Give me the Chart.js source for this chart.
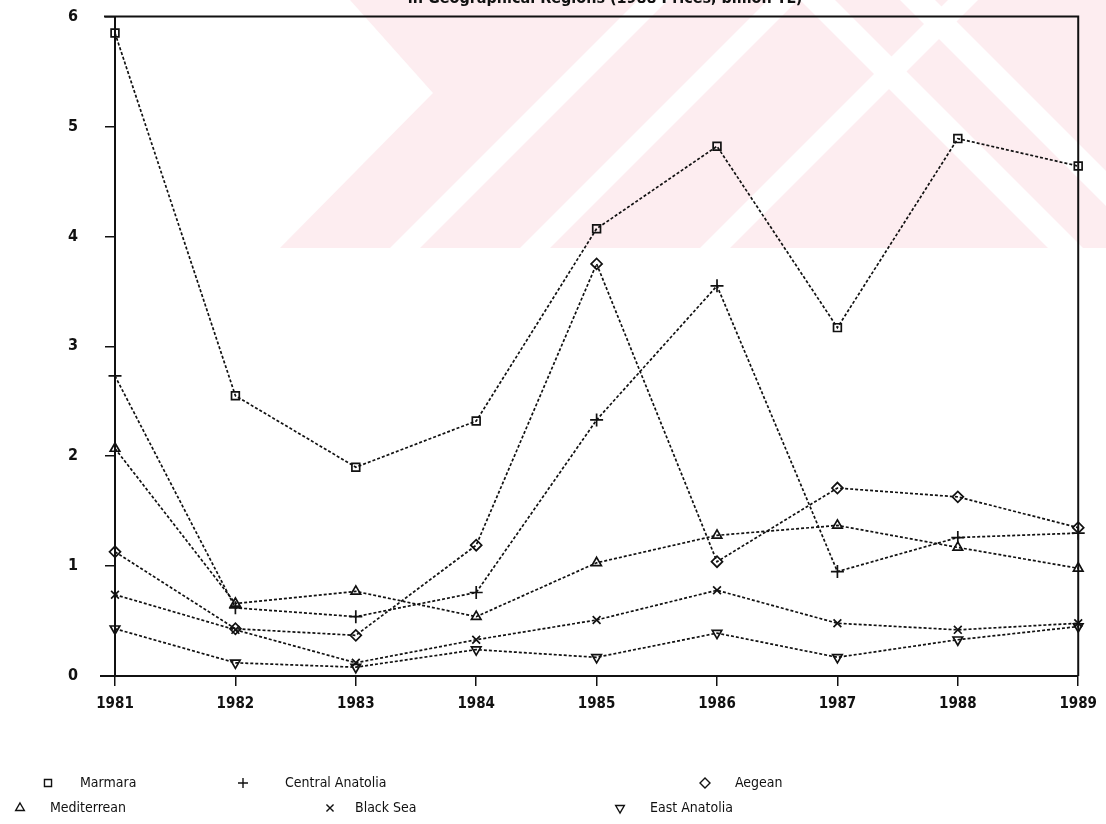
<!DOCTYPE html>
<html>
<head>
<meta charset="utf-8">
<script src="https://cdn.jsdelivr.net/npm/chart.js@4.4.0/dist/chart.umd.min.js"></script>
<style>
  body { margin: 0; background: #fff; }
  #wrap { width: 1106px; height: 824px; overflow: hidden; position: relative; }
  #myChart { position: absolute; left: 0; top: -20px; }
</style>
</head>
<body>
<div id="wrap"><canvas id="myChart" width="1106" height="844"></canvas></div>
<script>
// values
years = ['1981', '1982', '1983', '1984', '1985', '1986', '1987', '1988', '1989']
marmara = [5.85, 2.55, 1.90, 2.32, 4.07, 4.82, 3.17, 4.89, 4.64]
centralAnatolia = [2.73, 0.62, 0.54, 0.76, 2.33, 3.55, 0.95, 1.26, 1.30]
aegean = [1.13, 0.43, 0.37, 1.19, 3.75, 1.04, 1.71, 1.63, 1.35]
mediterrean = [2.07, 0.66, 0.77, 0.54, 1.03, 1.28, 1.37, 1.17, 0.98]
blackSea = [0.74, 0.42, 0.12, 0.33, 0.51, 0.78, 0.48, 0.42, 0.48]
eastAnatolia = [0.43, 0.12, 0.08, 0.24, 0.17, 0.39, 0.17, 0.33, 0.45]
yTicks = [0, 1, 2, 3, 4, 5, 6]
titleText = 'in Geographical Regions (1988 Prices, billion TL)'

const font = '"DejaVu Sans Condensed", "DejaVu Sans", sans-serif'
const shift = 20 // canvas sits 20px above the page top

function series(label, data, style, rot, r) {
  return {
    label: label,
    data: data,
    borderColor: '#111',
    borderWidth: 1.7,
    borderDash: [3, 2],
    pointStyle: style,
    rotation: rot,
    pointRadius: r,
    pointBorderWidth: 1.7,
    pointBackgroundColor: 'rgba(0,0,0,0)',
    pointBorderColor: '#111',
    fill: false,
    tension: 0
  }
}

// faint pink watermark behind the top of the plot
const watermark = {
  id: 'watermark',
  beforeDraw(chart) {
    const c = chart.ctx
    c.save()
    c.translate(0, shift)
    c.beginPath()
    c.rect(280, -shift, 826, 248 + shift)
    c.clip()
    c.fillStyle = '#fdedf0'
    c.fillRect(280, -shift, 826, 248 + shift)
    c.fillStyle = '#fff'
    // white wedge on the left
    c.beginPath()
    c.moveTo(280, -shift)
    c.lineTo(350, -shift)
    c.lineTo(350, 0)
    c.lineTo(433, 93)
    c.lineTo(280, 248)
    c.closePath()
    c.fill()
    // white "/" bands
    const bands = [390, 520, 700]
    bands.forEach(x0 => {
      c.beginPath()
      c.moveTo(x0, 248)
      c.lineTo(x0 + 268, -20)
      c.lineTo(x0 + 268 + 30, -20)
      c.lineTo(x0 + 30, 248)
      c.closePath()
      c.fill()
    })
    // white "\" bands on the right
    const bands2 = [800, 900]
    bands2.forEach(x0 => {
      c.beginPath()
      c.moveTo(x0 - 20, -20)
      c.lineTo(x0 + 248, 248)
      c.lineTo(x0 + 248 + 35, 248)
      c.lineTo(x0 + 15, -20)
      c.closePath()
      c.fill()
    })
    c.restore()
  }
}

// frame, cut-off title and the two-row legend
const extras = {
  id: 'extras',
  afterDraw(chart) {
    const c = chart.ctx
    const a = chart.chartArea
    c.save()
    c.strokeStyle = '#111'
    c.lineWidth = 2
    c.beginPath()
    c.moveTo(104, a.top)
    c.lineTo(a.right, a.top)
    c.lineTo(a.right, a.bottom)
    c.moveTo(100, a.bottom)
    c.lineTo(a.left, a.bottom)
    c.stroke()

    c.translate(0, shift)
    c.fillStyle = '#111'
    c.font = 'bold 16px ' + font
    c.textAlign = 'center'
    c.textBaseline = 'middle'
    c.fillText(titleText, 605, -1)

    const items = chart.data.datasets
    // marker x, row y, text offset
    const spots = [[48, 783, 32], [243, 783, 42], [705, 783, 30], [20, 808, 30], [330, 808, 25], [620, 808, 30]]
    c.font = '14px ' + font
    c.textAlign = 'left'
    items.forEach((d, i) => {
      const p = spots[i]
      c.lineWidth = 1.4
      c.strokeStyle = '#111'
      c.fillStyle = 'rgba(0,0,0,0)'
      Chart.helpers.drawPoint(c, {
        pointStyle: d.pointStyle,
        rotation: d.rotation || 0,
        radius: 5,
        borderWidth: 1.4
      }, p[0], p[1])
      c.fillStyle = '#111'
      c.fillText(d.label, p[0] + p[2], p[1])
    })
    c.restore()
  }
}

const ctx = document.getElementById('myChart').getContext('2d')
const myChart = new Chart(ctx, {
  type: 'line',
  data: {
    labels: years,
    datasets: [
      series('Marmara', marmara, 'rect', 0, 5.5),
      series('Central Anatolia', centralAnatolia, 'cross', 0, 6.5),
      series('Aegean', aegean, 'rectRot', 0, 5.5),
      series('Mediterrean', mediterrean, 'triangle', 0, 5.5),
      series('Black Sea', blackSea, 'crossRot', 0, 5.5),
      series('East Anatolia', eastAnatolia, 'triangle', 180, 5.5)
    ]
  },
  plugins: [watermark, extras],
  options: {
    responsive: false,
    animation: false,
    layout: { padding: { top: 16, right: 26, bottom: 108, left: 0 } },
    plugins: {
      legend: { display: false },
      tooltip: { enabled: false },
      title: { display: false }
    },
    scales: {
      x: {
        offset: false,
        afterFit(s) { s.height = 40 },
        grid: { drawOnChartArea: false, tickLength: 10, color: '#111', lineWidth: 1.5 },
        border: { display: true, color: '#111', width: 2 },
        ticks: { color: '#111', padding: 9, font: { family: font, size: 15, weight: 'bold' } }
      },
      y: {
        min: 0,
        max: 6,
        afterFit(s) { s.width = 115 },
        afterBuildTicks(s) { s.ticks = yTicks.map(v => ({ value: v })) },
        grid: { drawOnChartArea: false, tickLength: 10, color: '#111', lineWidth: 1.5 },
        border: { display: true, color: '#111', width: 2 },
        ticks: { color: '#111', padding: 27, font: { family: font, size: 16, weight: 'bold' } }
      }
    }
  }
})
</script>
</body>
</html>
